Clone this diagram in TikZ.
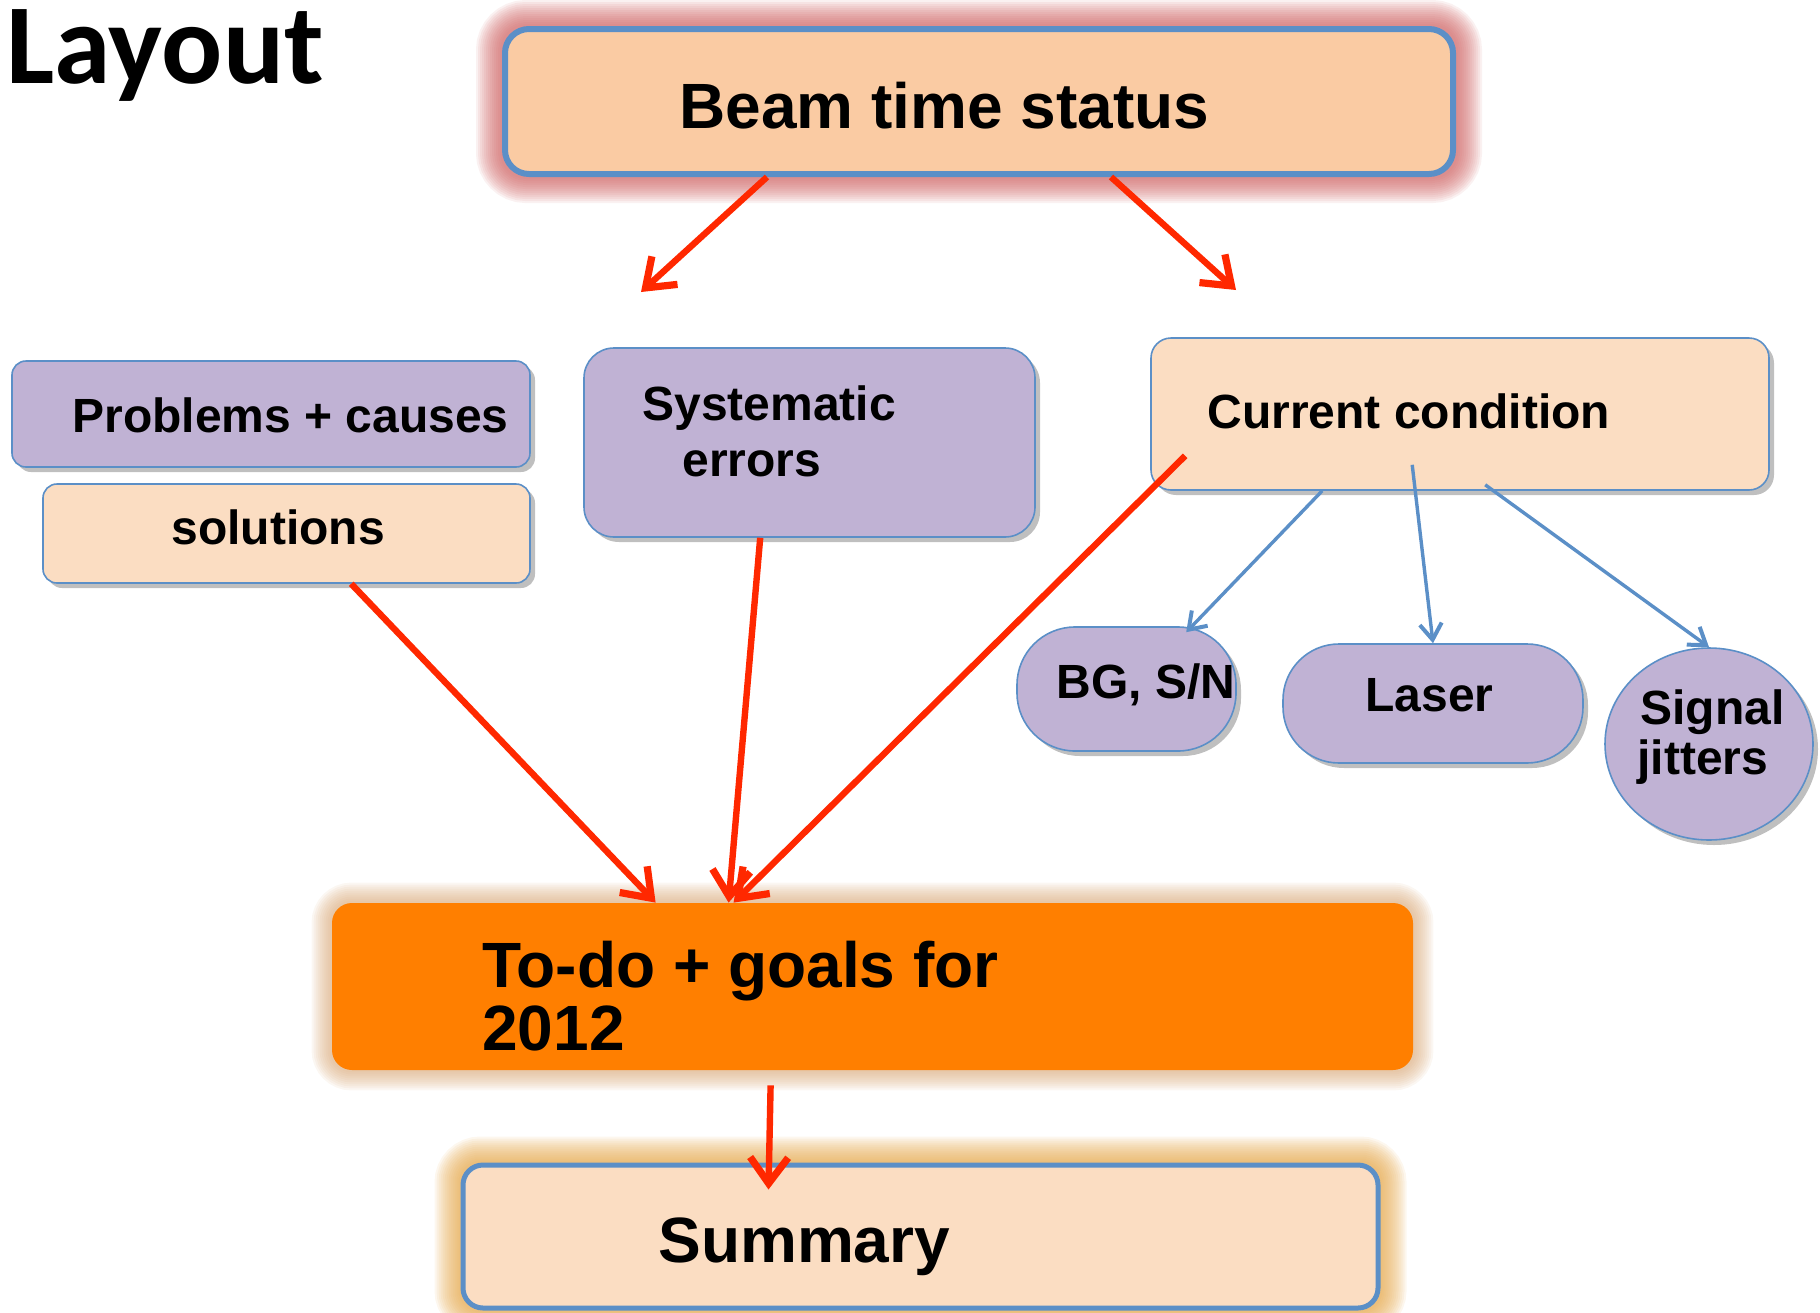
\documentclass[tikz,border=0pt]{standalone}
\usepackage{fontspec}
\setmainfont{Liberation Sans}
\newfontfamily\titlefont{Carlito}
\usetikzlibrary{arrows.meta,shapes.geometric,shadows}
\pgfdeclarelayer{bg}
\pgfsetlayers{bg,main}
\definecolor{peach}{RGB}{250,203,163}
\definecolor{lpeach}{RGB}{251,221,194}
\definecolor{lav}{RGB}{192,178,212}
\definecolor{bblue}{RGB}{91,143,199}
\definecolor{aorange}{RGB}{255,127,0}
\definecolor{ared}{RGB}{255,40,0}
\definecolor{glowred}{RGB}{205,95,95}
\definecolor{glowtan}{RGB}{215,165,115}
\definecolor{gloworange}{RGB}{228,165,70}
\tikzset{
  shad/.style={drop shadow={shadow xshift=2.5pt,shadow yshift=-2.5pt,opacity=0.25,fill=black}},
  lavbox/.style={draw=bblue, line width=0.8pt, fill=lav, inner sep=0, shad},
  pchbox/.style={draw=bblue, line width=0.8pt, fill=lpeach, inner sep=0, shad},
  txt/.style={anchor=base west, inner sep=0, font=\bfseries\fontsize{24}{28}\selectfont},
  bigtxt/.style={anchor=base west, inner sep=0, font=\bfseries\fontsize{32}{36}\selectfont},
  redarrow/.style={draw=ared, line width=3.2pt, -{Straight Barb[length=13pt,width=19pt,line width=3.6pt]}},
  bluearrow/.style={draw=bblue, line width=1.7pt, -{Straight Barb[length=8pt,width=11pt,line width=2pt]}}
}
\begin{document}
\begin{tikzpicture}[x=0.5pt,y=-0.5pt]
\useasboundingbox (0,0) rectangle (1820,1312);

% title
\node[anchor=base west, inner sep=0, font=\titlefont\bfseries\fontsize{57}{60}\selectfont] (title) at (6,83) {Layout};

% boxes
\node[draw=bblue, line width=3pt, fill=peach, rounded corners=12pt, inner sep=0,
      minimum width=474pt, minimum height=72.5pt] (beam) at (979,101.5) {};
\node[lavbox, rounded corners=7pt, minimum width=259pt, minimum height=53pt] (prob) at (271,414) {};
\node[pchbox, rounded corners=7pt, minimum width=243.5pt, minimum height=49.5pt] (sol) at (286.5,533.5) {};
\node[lavbox, rounded corners=15pt, minimum width=225.5pt, minimum height=94.5pt] (sys) at (809.5,442.5) {};
\node[pchbox, rounded corners=10pt, minimum width=309pt, minimum height=76pt] (cur) at (1460,414) {};
\node[fill=aorange, rounded corners=10pt, inner sep=0, minimum width=540.5pt, minimum height=83.5pt] (todo) at (872.5,986.5) {};
\node[draw=bblue, line width=2.5pt, fill=lpeach, rounded corners=10pt, inner sep=0,
      minimum width=457.5pt, minimum height=71.5pt] (sum) at (920.5,1236.5) {};
\node[lavbox, rounded corners=29pt, minimum width=109.5pt, minimum height=62pt] (bg) at (1126.5,689) {};
\node[lavbox, rounded corners=28pt, minimum width=150pt, minimum height=59.5pt] (laser) at (1433,703.5) {};
\node[lavbox, ellipse, minimum width=104pt, minimum height=96pt] (sig) at (1709,744) {};

% glows
\begin{pgfonlayer}{bg}
\foreach \w in {2,4,...,26}
  \draw[glowred, opacity=0.09, line width=\w pt, rounded corners=12pt] (beam.north west) rectangle (beam.south east);
\foreach \w in {2,4,...,20}
  \draw[glowtan, opacity=0.09, line width=\w pt, rounded corners=10pt] (todo.north west) rectangle (todo.south east);
\foreach \w in {2,4,...,26}
  \draw[gloworange, opacity=0.09, line width=\w pt, rounded corners=10pt] (sum.north west) rectangle (sum.south east);
\end{pgfonlayer}

% texts
\node[bigtxt] (beamT) at (679,128) {Beam time status};
\node[txt] (probT) at (72,432) {Problems + causes};
\node[txt] (solT) at (171,544) {solutions};
\node[txt] (sysT1) at (642,420) {Systematic};
\node[txt] (sysT2) at (682,476) {errors};
\node[txt] (curT) at (1207,428) {Current condition};
\node[bigtxt] (todoT1) at (482,987) {To-do + goals for};
\node[bigtxt] (todoT2) at (482,1050) {2012};
\node[bigtxt] (sumT) at (658,1262) {Summary};
\node[txt] (bgT) at (1056,698) {BG, S/N};
\node[txt] (laserT) at (1365,711) {Laser};
\node[txt] (sigT1) at (1640,724) {Signal};
\node[txt] (sigT2) at (1637,774) {jitters};

% free arrow ends
\coordinate (endL) at (641,292);
\coordinate (endR) at (1236,290);

% red arrows
\draw[redarrow] ([xshift=132.5pt]beam.south west) -- (endL);
\draw[redarrow] ([xshift=304.5pt]beam.south west) -- (endR);
\draw[redarrow] ([xshift=154.5pt]sol.south west) -- ([xshift=162pt]todo.north west);
\draw[redarrow] ([xshift=88.5pt]sys.south west) -- ([xshift=198.5pt]todo.north west);
\draw[redarrow] ([xshift=17.5pt,yshift=17.5pt]cur.south west) -- ([xshift=201pt]todo.north west);
\draw[redarrow] ([xshift=219.5pt,yshift=-7.5pt]todo.south west) -- ([xshift=154pt,yshift=-13.5pt]sum.north west);

% blue arrows
\draw[bluearrow] ([xshift=86pt]cur.south west) -- ([xshift=85pt,yshift=-3pt]bg.north west);
\draw[bluearrow] ([xshift=131pt,yshift=13pt]cur.south west) -- (laser.north);
\draw[bluearrow] ([xshift=167.5pt,yshift=3pt]cur.south west) -- (sig.north);
\end{tikzpicture}
\end{document}
